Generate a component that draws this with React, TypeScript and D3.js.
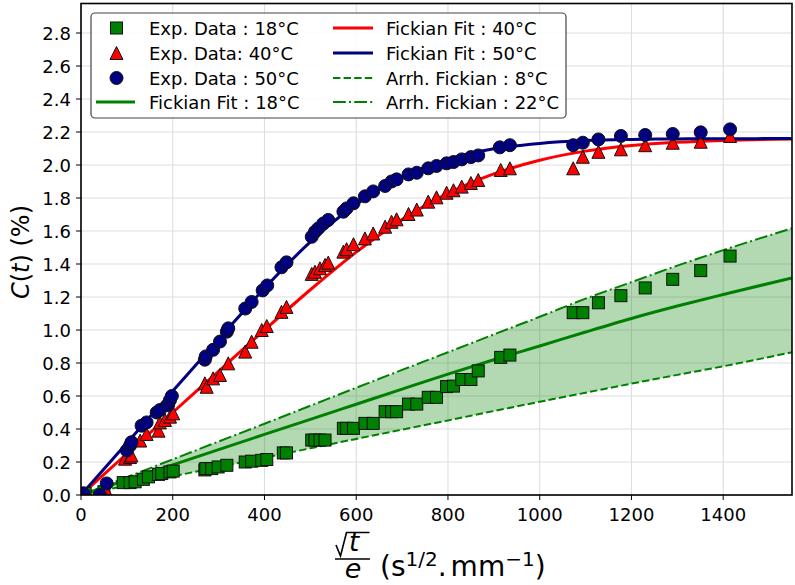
import React from 'react';
import * as d3 from 'd3';

// ---------- data ----------
const X_TICKS = [0, 200, 400, 600, 800, 1000, 1200, 1400];
const Y_TICKS = [0, 0.2, 0.4, 0.6, 0.8, 1.0, 1.2, 1.4, 1.6, 1.8, 2.0, 2.2, 2.4, 2.6, 2.8];

const exp18: [number, number][] = [
  [9, 0.01], [50, 0.02], [92, 0.075], [107, 0.075], [118, 0.08], [136, 0.095], [147, 0.11],
  [169, 0.125], [176, 0.13], [194, 0.14], [201, 0.145], [270, 0.152], [272, 0.16], [285, 0.16],
  [299, 0.17], [318, 0.18], [358, 0.2], [372, 0.205], [394, 0.21], [405, 0.215], [441, 0.255],
  [448, 0.255], [503, 0.333], [510, 0.333], [521, 0.333], [532, 0.333], [572, 0.404],
  [579, 0.404], [594, 0.404], [619, 0.434], [637, 0.434], [663, 0.505], [677, 0.505],
  [688, 0.505], [714, 0.551], [732, 0.551], [757, 0.592], [775, 0.592], [797, 0.657],
  [812, 0.66], [830, 0.7], [850, 0.7], [866, 0.752], [915, 0.834], [935, 0.848],
  [1073, 1.105], [1094, 1.105], [1128, 1.165], [1177, 1.208], [1230, 1.255], [1290, 1.307],
  [1351, 1.36], [1415, 1.448],
];

const exp40: [number, number][] = [
  [5, 0.0], [56, 0.02], [96, 0.22], [107, 0.23], [110, 0.24], [129, 0.33], [143, 0.37],
  [169, 0.39], [172, 0.44], [183, 0.455], [194, 0.475], [201, 0.495], [270, 0.677],
  [274, 0.656], [288, 0.707], [303, 0.727], [321, 0.798], [358, 0.869], [372, 0.929],
  [394, 1.0], [405, 1.024], [437, 1.11], [448, 1.14], [503, 1.34], [510, 1.353],
  [521, 1.374], [532, 1.394], [539, 1.408], [572, 1.475], [579, 1.49], [594, 1.52],
  [619, 1.555], [637, 1.585], [663, 1.626], [677, 1.656], [688, 1.671], [714, 1.703],
  [732, 1.73], [757, 1.778], [775, 1.804], [797, 1.832], [812, 1.847], [830, 1.869],
  [850, 1.891], [866, 1.909], [915, 1.97], [935, 1.98], [1073, 1.98], [1094, 2.05],
  [1128, 2.08], [1177, 2.095], [1230, 2.12], [1290, 2.135], [1351, 2.141], [1415, 2.176],
];

const exp50: [number, number][] = [
  [5, 0.01], [41, 0.0], [56, 0.07], [100, 0.27], [107, 0.3], [110, 0.32], [132, 0.42],
  [143, 0.44], [165, 0.5], [172, 0.515], [190, 0.545], [194, 0.575], [198, 0.6],
  [270, 0.82], [272, 0.84], [288, 0.88], [303, 0.93], [318, 0.99], [321, 1.01],
  [358, 1.13], [372, 1.17], [396, 1.24], [406, 1.27], [437, 1.38], [448, 1.41],
  [503, 1.565], [510, 1.595], [517, 1.615], [528, 1.645], [539, 1.667], [572, 1.717],
  [579, 1.737], [594, 1.768], [619, 1.81], [637, 1.84], [663, 1.873], [677, 1.9],
  [688, 1.913], [714, 1.943], [732, 1.953], [757, 1.98], [775, 1.994], [797, 2.01],
  [812, 2.018], [830, 2.034], [850, 2.048], [866, 2.058], [913, 2.107], [935, 2.12],
  [1073, 2.12], [1094, 2.135], [1128, 2.155], [1177, 2.176], [1230, 2.182], [1290, 2.188],
  [1351, 2.198], [1415, 2.216],
];

const CURVE_X = [0, 100, 200, 300, 400, 500, 600, 700, 800, 900, 1000, 1100, 1200, 1300, 1400, 1550];
const fit18 = [0, 0.092, 0.183, 0.275, 0.367, 0.458, 0.55, 0.642, 0.733, 0.82, 0.903, 0.988, 1.07, 1.145, 1.215, 1.316];
const fit40 = [0, 0.25, 0.5, 0.75, 1.0, 1.244, 1.472, 1.669, 1.828, 1.946, 2.029, 2.084, 2.118, 2.138, 2.149, 2.157];
const fit50 = [0, 0.315, 0.63, 0.944, 1.253, 1.534, 1.762, 1.927, 2.034, 2.098, 2.131, 2.148, 2.155, 2.158, 2.1595, 2.16];
const arrh8 = [0, 0.057, 0.113, 0.17, 0.226, 0.283, 0.34, 0.396, 0.452, 0.509, 0.565, 0.62, 0.675, 0.728, 0.78, 0.865];
const arrh22 = [0, 0.108, 0.216, 0.324, 0.432, 0.541, 0.65, 0.758, 0.865, 0.973, 1.08, 1.19, 1.29, 1.39, 1.484, 1.616];

// ---------- layout ----------
const W = 795, H = 585;
const L = 81, R = 792, T = 3.5, B = 495;
const FONT = 'DejaVu Sans, sans-serif';
const NAVY = '#000080';
const GREEN = '#008000';
const RED = '#ff0000';

const x = d3.scaleLinear().domain([0, 1550]).range([L, R]);
const y = d3.scaleLinear().domain([0, (B - T) / 165]).range([B, T]);

const pairs = (ys: number[]) => CURVE_X.map((v, i) => [v, ys[i]] as [number, number]);
const line = d3.line<[number, number]>().x(d => x(d[0])).y(d => y(d[1])).curve(d3.curveMonotoneX);
const area = d3.area<[number, number, number]>()
  .x(d => x(d[0])).y0(d => y(d[1])).y1(d => y(d[2])).curve(d3.curveMonotoneX);

const Square = ({ cx, cy, s = 12 }: { cx: number; cy: number; s?: number }) => (
  <rect x={cx - s / 2} y={cy - s / 2} width={s} height={s} fill={GREEN} stroke="#111" strokeWidth={1} />
);
const Tri = ({ cx, cy, s = 13 }: { cx: number; cy: number; s?: number }) => (
  <path d={`M${cx},${cy - s / 2}L${cx - s / 2},${cy + s / 2}L${cx + s / 2},${cy + s / 2}Z`} fill={RED} stroke="#111" strokeWidth={1} />
);
const Circ = ({ cx, cy, r = 6.5 }: { cx: number; cy: number; r?: number }) => (
  <circle cx={cx} cy={cy} r={r} fill={NAVY} stroke="#111" strokeWidth={1} />
);

export default function App() {
  const band = CURVE_X.map((v, i) => [v, arrh8[i], arrh22[i]] as [number, number, number]);
  const rows = [28, 53, 78, 102];
  const legendFont = 18;
  return (
    <svg width={W} height={H} style={{ position: 'absolute', left: 0, top: 0, background: '#fff' }} fontFamily={FONT}>
      <defs>
        <clipPath id="plot"><rect x={L} y={T} width={R - L} height={B - T} /></clipPath>
      </defs>
      {/* grid */}
      <g stroke="#dedede" strokeWidth={1.1}>
        {X_TICKS.map(t => <line key={'gx' + t} x1={x(t)} x2={x(t)} y1={T} y2={B} />)}
        {Y_TICKS.map(t => <line key={'gy' + t} x1={L} x2={R} y1={y(t)} y2={y(t)} />)}
      </g>
      <g clipPath="url(#plot)">
        <path d={area(band) || ''} fill={GREEN} fillOpacity={0.3} stroke="none" />
        <path d={line(pairs(fit18)) || ''} fill="none" stroke={GREEN} strokeWidth={3} />
        <path d={line(pairs(fit40)) || ''} fill="none" stroke={RED} strokeWidth={3} />
        <path d={line(pairs(fit50)) || ''} fill="none" stroke={NAVY} strokeWidth={3} />
        <path d={line(pairs(arrh8)) || ''} fill="none" stroke={GREEN} strokeWidth={2} strokeDasharray="7.4 3.2" />
        <path d={line(pairs(arrh22)) || ''} fill="none" stroke={GREEN} strokeWidth={2} strokeDasharray="12.8 3.2 2 3.2" />
        {exp18.map((d, i) => <Square key={'s' + i} cx={x(d[0])} cy={y(d[1])} />)}
        {exp40.map((d, i) => <Tri key={'t' + i} cx={x(d[0])} cy={y(d[1])} />)}
        {exp50.map((d, i) => <Circ key={'c' + i} cx={x(d[0])} cy={y(d[1])} />)}
      </g>
      {/* frame */}
      <rect x={L} y={T} width={R - L} height={B - T} fill="none" stroke="#000" strokeWidth={1.6} />
      {/* ticks */}
      <g stroke="#000" strokeWidth={1}>
        {X_TICKS.map(t => <line key={'tx' + t} x1={x(t)} x2={x(t)} y1={B} y2={B + 5} />)}
        {Y_TICKS.map(t => <line key={'ty' + t} x1={L - 5} x2={L} y1={y(t)} y2={y(t)} />)}
      </g>
      <g fontSize={18} fill="#000">
        {X_TICKS.map(t => <text key={'lx' + t} x={x(t)} y={521} textAnchor="middle">{t}</text>)}
        {Y_TICKS.map(t => <text key={'ly' + t} x={71} y={y(t) + 6.5} textAnchor="end">{t.toFixed(1)}</text>)}
      </g>
      {/* y label */}
      <text transform="translate(29,252) rotate(-90)" textAnchor="middle" fontSize={24}>
        <tspan fontStyle="italic">C</tspan>(<tspan fontStyle="italic">t</tspan>) (%)
      </text>
      {/* x label */}
      <g>
        <path d="M336,545 L340.5,556 L346.5,532.5 L369.5,532.5" fill="none" stroke="#000" strokeWidth={1.6} />
        <text x={349} y={551} fontSize={26} fontStyle="italic">t</text>
        <line x1={335} x2={370} y1={559} y2={559} stroke="#000" strokeWidth={1.6} />
        <text x={353} y={578} fontSize={27} fontStyle="italic" textAnchor="middle">e</text>
        <text x={380} y={576} fontSize={28}>
          (s<tspan fontSize={20} dy={-10}>1/2</tspan><tspan dy={10}>.</tspan><tspan dx={4}>mm</tspan><tspan fontSize={20} dy={-10}>−1</tspan><tspan dy={10}>)</tspan>
        </text>
      </g>
      {/* legend */}
      <g>
        <rect x={91} y={13} width={475} height={105} rx={4} fill="#fff" fillOpacity={0.85} stroke="#444" strokeWidth={1.2} />
        <Square cx={116.5} cy={rows[0]} />
        <Tri cx={116.5} cy={rows[1]} />
        <Circ cx={116.5} cy={rows[2]} />
        <line x1={96} x2={135} y1={rows[3]} y2={rows[3]} stroke={GREEN} strokeWidth={3} />
        <line x1={333} x2={373} y1={rows[0]} y2={rows[0]} stroke={RED} strokeWidth={3} />
        <line x1={333} x2={373} y1={rows[1]} y2={rows[1]} stroke={NAVY} strokeWidth={3} />
        <line x1={333} x2={373} y1={rows[2]} y2={rows[2]} stroke={GREEN} strokeWidth={2} strokeDasharray="7.4 3.2" />
        <line x1={333} x2={373} y1={rows[3]} y2={rows[3]} stroke={GREEN} strokeWidth={2} strokeDasharray="12.8 3.2 2 3.2" />
        <g fontSize={legendFont} fill="#000">
          <text x={149} y={rows[0] + 6.5}>Exp. Data : 18°C</text>
          <text x={149} y={rows[1] + 6.5}>Exp. Data: 40°C</text>
          <text x={149} y={rows[2] + 6.5}>Exp. Data : 50°C</text>
          <text x={149} y={rows[3] + 6.5}>Fickian Fit : 18°C</text>
          <text x={386} y={rows[0] + 6.5}>Fickian Fit : 40°C</text>
          <text x={386} y={rows[1] + 6.5}>Fickian Fit : 50°C</text>
          <text x={386} y={rows[2] + 6.5}>Arrh. Fickian : 8°C</text>
          <text x={386} y={rows[3] + 6.5}>Arrh. Fickian : 22°C</text>
        </g>
      </g>
    </svg>
  );
}
